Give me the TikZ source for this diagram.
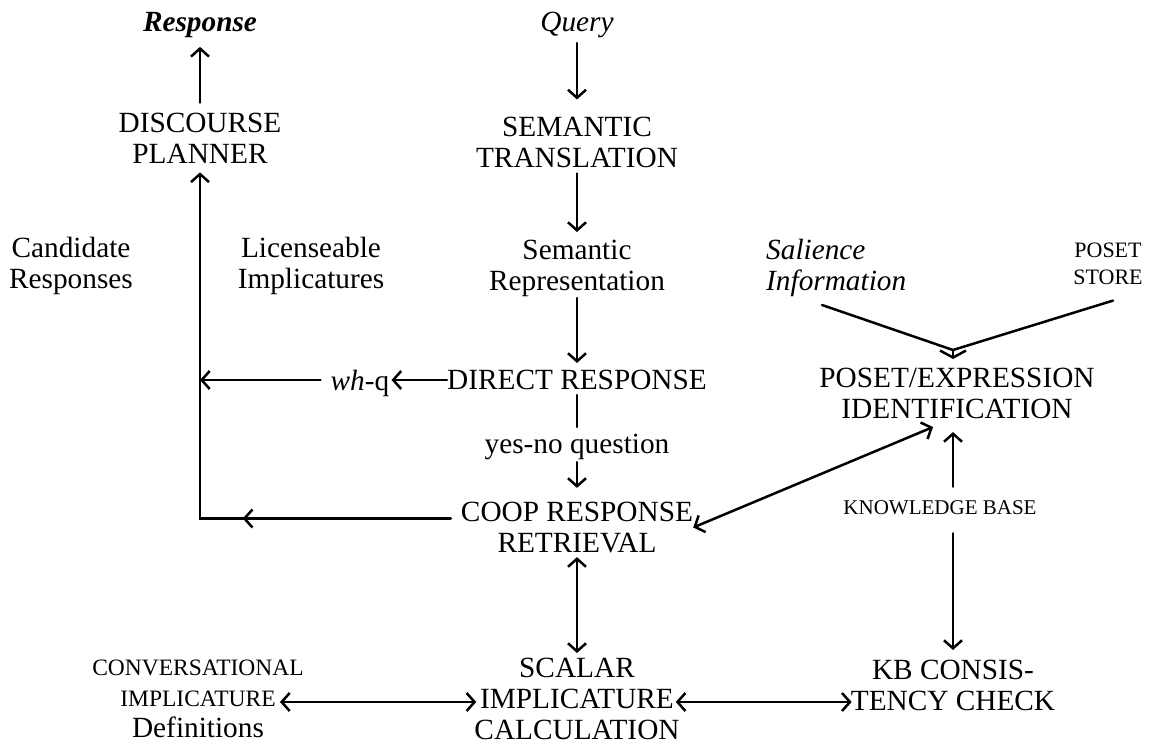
\documentclass[tikz,border=0pt]{standalone}
\usepackage{fontspec}
\setmainfont{Liberation Serif}
\usetikzlibrary{arrows.meta,calc,decorations.markings}
\newcommand\mainsz{\fontsize{29.3}{31}\selectfont}
\newcommand\possz{\fontsize{22}{27}\selectfont}
\newcommand\kbsz{\fontsize{21}{25}\selectfont}
\newcommand\convsz{\fontsize{23.5}{31}\selectfont}
\begin{document}
\begin{tikzpicture}[x=1pt,y=-1pt,
  lbl/.style={inner sep=0pt, align=center, font=\mainsz},
  wire/.style={line width=2.5pt, line cap=round},
  arrowend/.style={-{Straight Barb[length=8pt,width=18pt]}},
  arrowboth/.style={{Straight Barb[length=8pt,width=18pt]}-{Straight Barb[length=8pt,width=18pt]}},
  chevend/.style={-{Straight Barb[length=7pt,width=26pt]}},
]
\useasboundingbox (0,0) rectangle (1153,749);

% nodes
\node[lbl, font=\mainsz\bfseries\itshape] (resp) at (200,25) {Response};
\node[lbl, font=\mainsz\itshape] (query) at (577,25) {Query};
\node[lbl] (dp) at (200,138) {DISCOURSE\\PLANNER};
\node[lbl] (st) at (577,142) {SEMANTIC\\TRANSLATION};
\node[lbl] (cand) at (71,266) {Candidate\\Responses};
\node[lbl] (lic) at (311,266) {Licenseable\\Implicatures};
\node[lbl] (semrep) at (577,268.5) {Semantic\\Representation};
\node[lbl, font=\mainsz\itshape, align=left, anchor=west] (sal) at (766,268) {Salience\\Information};
\node[lbl, font=\possz] (poset) at (1108,263.5) {POSET\\STORE};
\node[lbl] (whq) at (360,383) {\textit{wh}-q};
\node[lbl] (dr) at (577,380) {DIRECT RESPONSE};
\node[lbl] (pe) at (957,393.5) {POSET/EXPRESSION\\IDENTIFICATION};
\node[lbl] (yn) at (577,447) {yes-no question};
\node[lbl] (coop) at (577,527.5) {COOP RESPONSE\\RETRIEVAL};
\node[lbl, font=\kbsz] (kb) at (940,508) {KNOWLEDGE BASE};
\node[lbl] (conv) at (198,699) {{\convsz CONVERSATIONAL}\\{\convsz IMPLICATURE}\\Definitions};
\node[lbl] (scalar) at (577,699) {SCALAR\\IMPLICATURE\\CALCULATION};
\node[lbl] (kbcc) at (953,685.5) {KB CONSIS-\\TENCY CHECK};

% connectors
\draw[wire,arrowend,shorten <=10pt,shorten >=9pt] (dp.north) -- (resp.south);
\draw[wire,arrowend,shorten <=5pt,shorten >=17pt] (query.south) -- (st.north);
\draw[wire,arrowend,shorten <=6pt,shorten >=8pt] (st.south) -- (semrep.north);
\draw[wire,arrowend,shorten <=1pt,shorten >=7pt] (semrep.south) -- (dr.north);
\draw[wire,arrowend,shorten >=2pt] (dr.west) -- (dr.west -| whq.east);
\draw[wire,arrowend,shorten <=10pt] (dr.west -| whq.west) -- (dr.west -| dp.south);
\draw[wire,shorten <=5pt,shorten >=7pt] (dr.south) -- (yn.north);
\draw[wire,arrowend,shorten <=2pt,shorten >=14pt] (yn.south) -- (coop.north);
\draw[wire,arrowboth,shorten <=4pt,shorten >=5pt] (coop.south) -- (scalar.north);
\draw[wire,arrowboth] (coop.east) -- ($(pe.south)+(-24,8)$);
\draw[wire,arrowend,shorten <=14pt,shorten >=13pt] (kb.north -| kbcc.north) -- (pe.south -| kbcc.north);
\draw[wire,arrowend,shorten <=18pt,shorten >=10pt] (kb.south -| kbcc.north) -- (kbcc.north);
\draw[wire,arrowboth] ($(conv.center)+(82,3)$) -- ($(scalar.west)+(2,3)$);
\draw[wire,arrowboth] ($(scalar.east)+(-4,3)$) -- ($(kbcc.west)+(1,16.5)$);

% merging inputs
\coordinate (merge) at (953,350);
\draw[wire] ($(sal.south west)+(56,8)$) -- (merge);
\draw[wire] ($(poset.south)+(5,16)$) -- (merge);
\draw[wire,chevend,shorten >=9pt] (merge) -- (merge |- pe.north);

% candidate responses loop
\coordinate (cw) at ($(coop.west)+(-10,-9)$);
\coordinate (corner) at (cw -| dp.south);
\draw[wire,arrowend,shorten >=9pt,postaction={decorate},
  decoration={markings,mark=at position 208pt with {\arrow{Straight Barb[length=8pt,width=18pt]}}}]
  (cw) -- (corner) -- (dp.south);
\end{tikzpicture}
\end{document}
